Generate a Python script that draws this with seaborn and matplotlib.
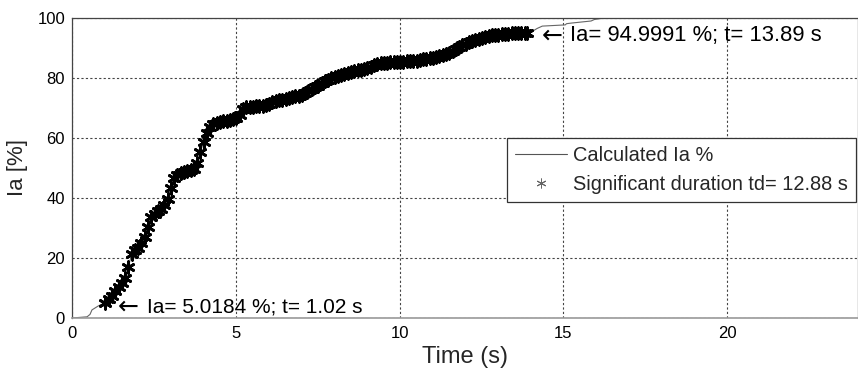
import numpy as np
import pandas as pd
import matplotlib
matplotlib.use("Agg")
import matplotlib.pyplot as plt
from matplotlib.lines import Line2D
import seaborn as sns

# Arias intensity build-up before the 5 % threshold
t_pre = [0.0, 0.25, 0.46, 0.55, 0.61, 0.70, 0.80, 0.91]
ia_pre = [0.0, 0.2, 0.4, 1.2, 2.7, 3.3, 4.0, 4.6]

# Significant-duration window, sampled every 0.1 s from 1.02 s, ending at 13.89 s
t_sig = list(np.round(np.arange(1.02, 13.83, 0.1), 2)) + [13.89]
ia_sig = [
    5.0184, 6.2, 7.4, 9.0, 10.5, 11.6, 13.2, 17.0, 21.2, 22.6,
    23.4, 25.0, 27.0, 30.5, 33.6, 34.8, 35.6, 36.4, 37.8, 39.6,
    43.5, 46.8, 47.8, 48.2, 48.6, 48.9, 49.2, 49.6, 51.8, 55.2,
    58.8, 61.8, 63.6, 64.6, 65.1, 65.4, 65.6, 65.8, 66.0, 66.2,
    66.6, 67.8, 69.6, 70.2, 70.4, 70.5, 70.6, 70.7, 70.8, 71.0,
    71.4, 71.9, 72.3, 72.6, 72.8, 73.1, 73.4, 73.7, 73.9, 74.1,
    74.5, 75.1, 75.8, 76.4, 76.9, 77.4, 78.2, 79.0, 79.5, 79.9,
    80.3, 80.7, 81.0, 81.4, 81.7, 82.0, 82.3, 82.6, 82.8, 83.0,
    83.3, 83.7, 84.2, 84.6, 84.9, 85.0, 85.1, 85.2, 85.2, 85.3,
    85.4, 85.5, 85.6, 85.7, 85.7, 85.8, 86.0, 86.2, 86.4, 86.6,
    86.8, 87.0, 87.2, 87.6, 88.0, 88.4, 88.9, 89.6, 90.4, 91.0,
    91.5, 91.9, 92.3, 92.7, 93.1, 93.5, 93.8, 94.0, 94.2, 94.3,
    94.4, 94.6, 94.7, 94.8, 94.85, 94.9, 94.9, 94.95, 94.98, 94.9991,
]

# Tail of the record after the 95 % threshold
t_post = [14.02, 14.20, 14.36, 15.06, 15.10, 15.24, 15.85, 15.95, 16.25, 24.0]
ia_post = [95.3, 96.5, 97.3, 97.7, 98.1, 98.3, 99.0, 99.5, 100.0, 100.0]

t_start, ia_start = 1.02, 5.0184
t_end, ia_end = 13.89, 94.9991
td = 12.88

line_df = pd.DataFrame({"t": t_pre + t_sig + t_post,
                        "ia": ia_pre + ia_sig + ia_post})
sig_df = pd.DataFrame({"t": t_sig, "ia": ia_sig})

sns.set_theme(style="white")
plt.rcParams["font.family"] = ["Liberation Sans", "DejaVu Sans"]

fig = plt.figure(figsize=(8.58, 3.69), dpi=100)
ax = fig.add_axes([72 / 858, 1 - 318 / 369, 786 / 858, 300 / 369])

asterisk = (6, 2, 0)
sns.lineplot(data=line_df, x="t", y="ia", ax=ax, color="#666666",
             linewidth=0.8, sort=False, estimator=None, zorder=2)
sns.scatterplot(data=sig_df, x="t", y="ia", ax=ax, marker=asterisk, s=70,
                color="black", edgecolor="black", linewidth=2.0, zorder=3)

ax.set_xlim(0, 24)
ax.set_ylim(0, 100)
ax.set_xticks([0, 5, 10, 15, 20])
ax.set_yticks([0, 20, 40, 60, 80, 100])
ax.grid(True, linestyle=(0, (2, 2)), color="#444444", linewidth=0.8)
ax.tick_params(labelsize=12, direction="in", length=3, colors="black")
ax.tick_params(axis="x", pad=6)
ax.tick_params(axis="y", pad=5)
for side in ["top", "left", "right"]:
    ax.spines[side].set_color("#444444")
    ax.spines[side].set_linewidth(0.9)
ax.spines["bottom"].set_color("#999999")
ax.spines["bottom"].set_linewidth(1.2)

ax.set_xlabel("Time (s)", fontsize=17, labelpad=3)
ax.set_ylabel("Ia [%]", fontsize=16, labelpad=7)

# Threshold annotations: arrow glyph followed by the value label
for tx, iy, y_txt, x_arrow, x_text, fs in [
    (t_start, ia_start, ia_start - 1.2, 1.40, 2.28, 15),
    (t_end, ia_end, ia_end - 0.8, 14.34, 15.22, 15.8),
]:
    ax.text(x_arrow, y_txt, "\u2190", family=["DejaVu Sans"],
            fontsize=18, va="center", ha="left", color="black", zorder=5)
    ax.text(x_text, y_txt, "Ia= %.4f %%; t= %.2f s" % (iy, tx),
            fontsize=fs, va="center", ha="left", color="black", zorder=5)

handles = [
    Line2D([], [], color="#555555", linewidth=0.8),
    Line2D([], [], color="#666666", linestyle="none", marker=asterisk,
           markersize=7, markeredgewidth=0.7),
]
labels = ["Calculated Ia %", "Significant duration td= %.2f s" % td]
leg = ax.legend(handles, labels, loc="upper right",
                bbox_to_anchor=(0.9975, 0.60), fontsize=14.4,
                frameon=True, fancybox=False, shadow=False,
                borderaxespad=0, handlelength=2.6, handletextpad=0.3,
                borderpad=0.4, labelspacing=0.5)
leg.get_frame().set_edgecolor("#333333")
leg.get_frame().set_linewidth(0.9)
leg.get_frame().set_alpha(1)

fig.savefig("out.png", dpi=100)
